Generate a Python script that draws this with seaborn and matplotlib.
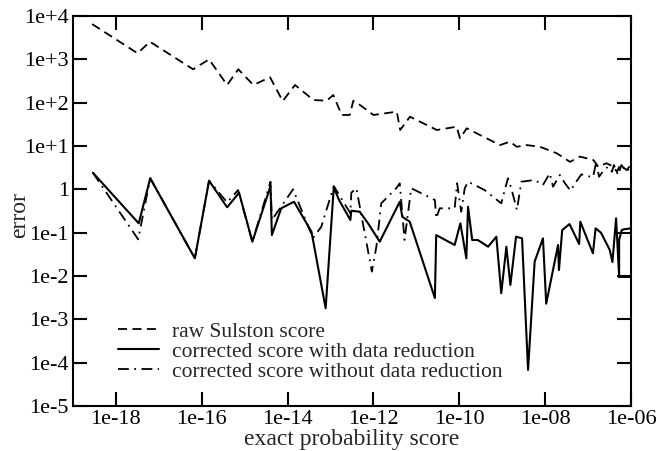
import pandas as pd
import matplotlib
matplotlib.use("Agg")
import matplotlib.pyplot as plt
import seaborn as sns

# exact probability score (x) and error values
raw_x = [2.8e-19, 3.2e-18, 6.2e-18, 6.3e-17, 1.48e-16, 3.9e-16, 7.1e-16, 1.59e-15,
         3.9e-15, 7.7e-15, 1.49e-14, 4.0e-14, 8.1e-14, 1.16e-13, 1.82e-13, 2.8e-13,
         3.4e-13, 4.9e-13, 1.0e-12, 3.5e-12, 4.2e-12, 7.1e-12, 3.0e-11, 8.7e-11,
         1.04e-10, 1.49e-10, 8.9e-10, 1.52e-9, 2.18e-9, 3.7e-9, 7.6e-9, 1.86e-8,
         3.8e-8, 6.5e-8, 1.33e-7, 1.73e-7, 2.7e-7, 3.9e-7, 4.7e-7, 5.6e-7, 7.9e-7, 9.9e-7]
raw_err = [6500, 1380, 2550, 589, 1000, 256, 589, 256,
           385, 109, 256, 115, 111, 150, 52, 52,
           111, 88, 52, 62, 23.4, 47.4, 23.4, 27.9,
           15.0, 25.6, 10.5, 12.6, 9.6, 10.5, 9.6, 6.8,
           4.3, 5.7, 4.75, 3.33, 4.0, 3.33, 2.55, 3.64, 2.79, 3.64]

red_x = [2.9e-19, 3.4e-18, 6.3e-18, 6.9e-17, 1.48e-16, 3.9e-16, 7.4e-16, 1.51e-15,
         4.0e-15, 4.3e-15, 7.1e-15, 1.41e-14, 3.6e-14, 7.7e-14, 1.19e-13, 1.58e-13,
         2.9e-13, 3.05e-13, 4.8e-13, 7.5e-13, 1.4e-12, 4.1e-12, 4.7e-12, 7.0e-12,
         2.7e-11, 2.9e-11, 7.8e-11, 1.06e-10, 1.46e-10, 1.6e-10, 2.0e-10, 2.7e-10,
         4.7e-10, 7.3e-10, 9.5e-10, 1.25e-9, 1.55e-9, 2.1e-9, 2.9e-9, 4.0e-9,
         5.7e-9, 8.9e-9, 1.06e-8, 2.0e-8, 2.1e-8, 2.5e-8, 3.7e-8, 6.2e-8,
         6.6e-8, 1.3e-7, 1.5e-7, 2.0e-7, 3.2e-7, 3.7e-7, 4.5e-7, 5.3e-7,
         1.0e-6, 5.3e-7, 5.3e-7, 6.1e-7, 7.0e-7, 1.0e-6]
red_err = [2.42, 0.164, 1.80, 0.0256, 1.58, 0.385, 0.835, 0.0618,
           1.19, 0.088, 0.365, 0.518, 0.105, 0.0018, 1.11, 0.567,
           0.196, 0.321, 0.304, 0.164, 0.0618, 0.518, 0.233, 0.179,
           0.0031, 0.088, 0.0519, 0.164, 0.0256, 0.397, 0.0677, 0.0677,
           0.0474, 0.0807, 0.0040, 0.0474, 0.0062, 0.0807, 0.074, 6.8e-5,
           0.0214, 0.074, 0.0023, 0.0519, 0.0137, 0.115, 0.158, 0.0547,
           0.179, 0.0334, 0.126, 0.1, 0.04, 0.021, 0.214, 0.0096,
           0.0096, 0.0096, 0.068, 0.115, 0.12, 0.126]

nored_x = [2.9e-19, 3.3e-18, 6.3e-18, 6.9e-17, 1.48e-16, 3.9e-16, 7.0e-16, 1.51e-15,
           4.0e-15, 4.3e-15, 1.34e-14, 3.9e-14, 6.1e-14, 1.19e-13, 2.9e-13, 3.05e-13,
           4.0e-13, 9.2e-13, 1.17e-12, 1.52e-12, 3.4e-12, 4.1e-12, 5.3e-12, 7.6e-12,
           2.7e-11, 2.9e-11, 3.5e-11, 7.8e-11, 8.9e-11, 1.11e-10, 1.34e-10, 1.6e-10,
           3.9e-10, 9.5e-10, 1.36e-9, 1.63e-9, 2.2e-9, 2.8e-9, 5.7e-9, 8.9e-9,
           1.28e-8, 1.53e-8, 2.2e-8, 2.9e-8, 3.9e-8, 5.3e-8, 7.0e-8, 1.3e-7,
           1.56e-7, 1.8e-7, 2.2e-7, 2.9e-7, 3.6e-7, 4.0e-7, 5.0e-7, 6.0e-7,
           7.8e-7, 1.0e-6]
nored_err = [2.42, 0.070, 1.80, 0.0256, 1.58, 0.50, 0.96, 0.0618,
             1.5, 0.196, 1.0, 0.075, 0.137, 1.19, 0.28, 0.835,
             1.06, 0.0126, 0.0474, 0.475, 1.06, 1.38, 0.068, 1.06,
             0.567, 0.214, 0.365, 0.365, 1.38, 0.304, 1.06, 1.5,
             0.96, 0.475, 1.80, 1.06, 0.333, 1.5, 1.64, 1.26,
             2.34, 1.15, 2.14, 1.38, 0.93, 1.5, 2.22, 1.89,
             4.3, 1.95, 2.55, 3.33, 2.55, 3.64, 2.14, 3.64,
             2.55, 3.33]

x_ticks = [1e-18, 1e-16, 1e-14, 1e-12, 1e-10, 1e-08, 1e-06]
x_labels = ["1e-18", "1e-16", "1e-14", "1e-12", "1e-10", "1e-08", "1e-06"]
y_ticks = [1e-5, 1e-4, 1e-3, 1e-2, 1e-1, 1, 1e1, 1e2, 1e3, 1e4]
y_labels = ["1e-5", "1e-4", "1e-3", "1e-2", "1e-1", "1", "1e+1", "1e+2", "1e+3", "1e+4"]

sns.set_style("ticks")
plt.rcParams['font.family'] = ['Liberation Serif', 'DejaVu Serif']

fig, ax = plt.subplots(figsize=(6.66, 4.51), dpi=100)
fig.subplots_adjust(left=0.1096, right=0.9474, top=0.9645, bottom=0.0998)

sns.lineplot(x=raw_x, y=raw_err, sort=False, estimator=None, color='black',
             linewidth=1.3, linestyle=(0, (5, 3)), label='raw Sulston score', ax=ax)
sns.lineplot(x=red_x, y=red_err, sort=False, estimator=None, color='black',
             linewidth=1.5, linestyle='-', label='corrected score with data reduction', ax=ax)
sns.lineplot(x=nored_x, y=nored_err, sort=False, estimator=None, color='black',
             linewidth=1.3, linestyle=(0, (6, 3, 1, 3)),
             label='corrected score without data reduction', ax=ax)

ax.set_xscale('log')
ax.set_yscale('log')
ax.set_xlim(1e-19, 1e-6)
ax.set_ylim(1e-5, 1e4)
ax.set_xticks(x_ticks)
ax.set_xticklabels(x_labels)
ax.set_yticks(y_ticks)
ax.set_yticklabels(y_labels)
ax.minorticks_off()
ax.tick_params(direction='in', length=10, width=1.5, top=True, right=True,
               labelsize=16, colors='black', pad=3)
for s in ax.spines.values():
    s.set_linewidth(1.5)
    s.set_color('black')

ax.set_xlabel('exact probability score', fontsize=17, labelpad=0)
ax.set_ylabel('error', fontsize=17)
ax.yaxis.set_label_coords(-0.076, 0.49)

ax.legend(loc='lower left', bbox_to_anchor=(0.066, 0.04), frameon=False, fontsize=15.5,
          handlelength=1.9, handletextpad=0.6, labelspacing=0.0, borderaxespad=0)

fig.savefig('out.png', dpi=100)
